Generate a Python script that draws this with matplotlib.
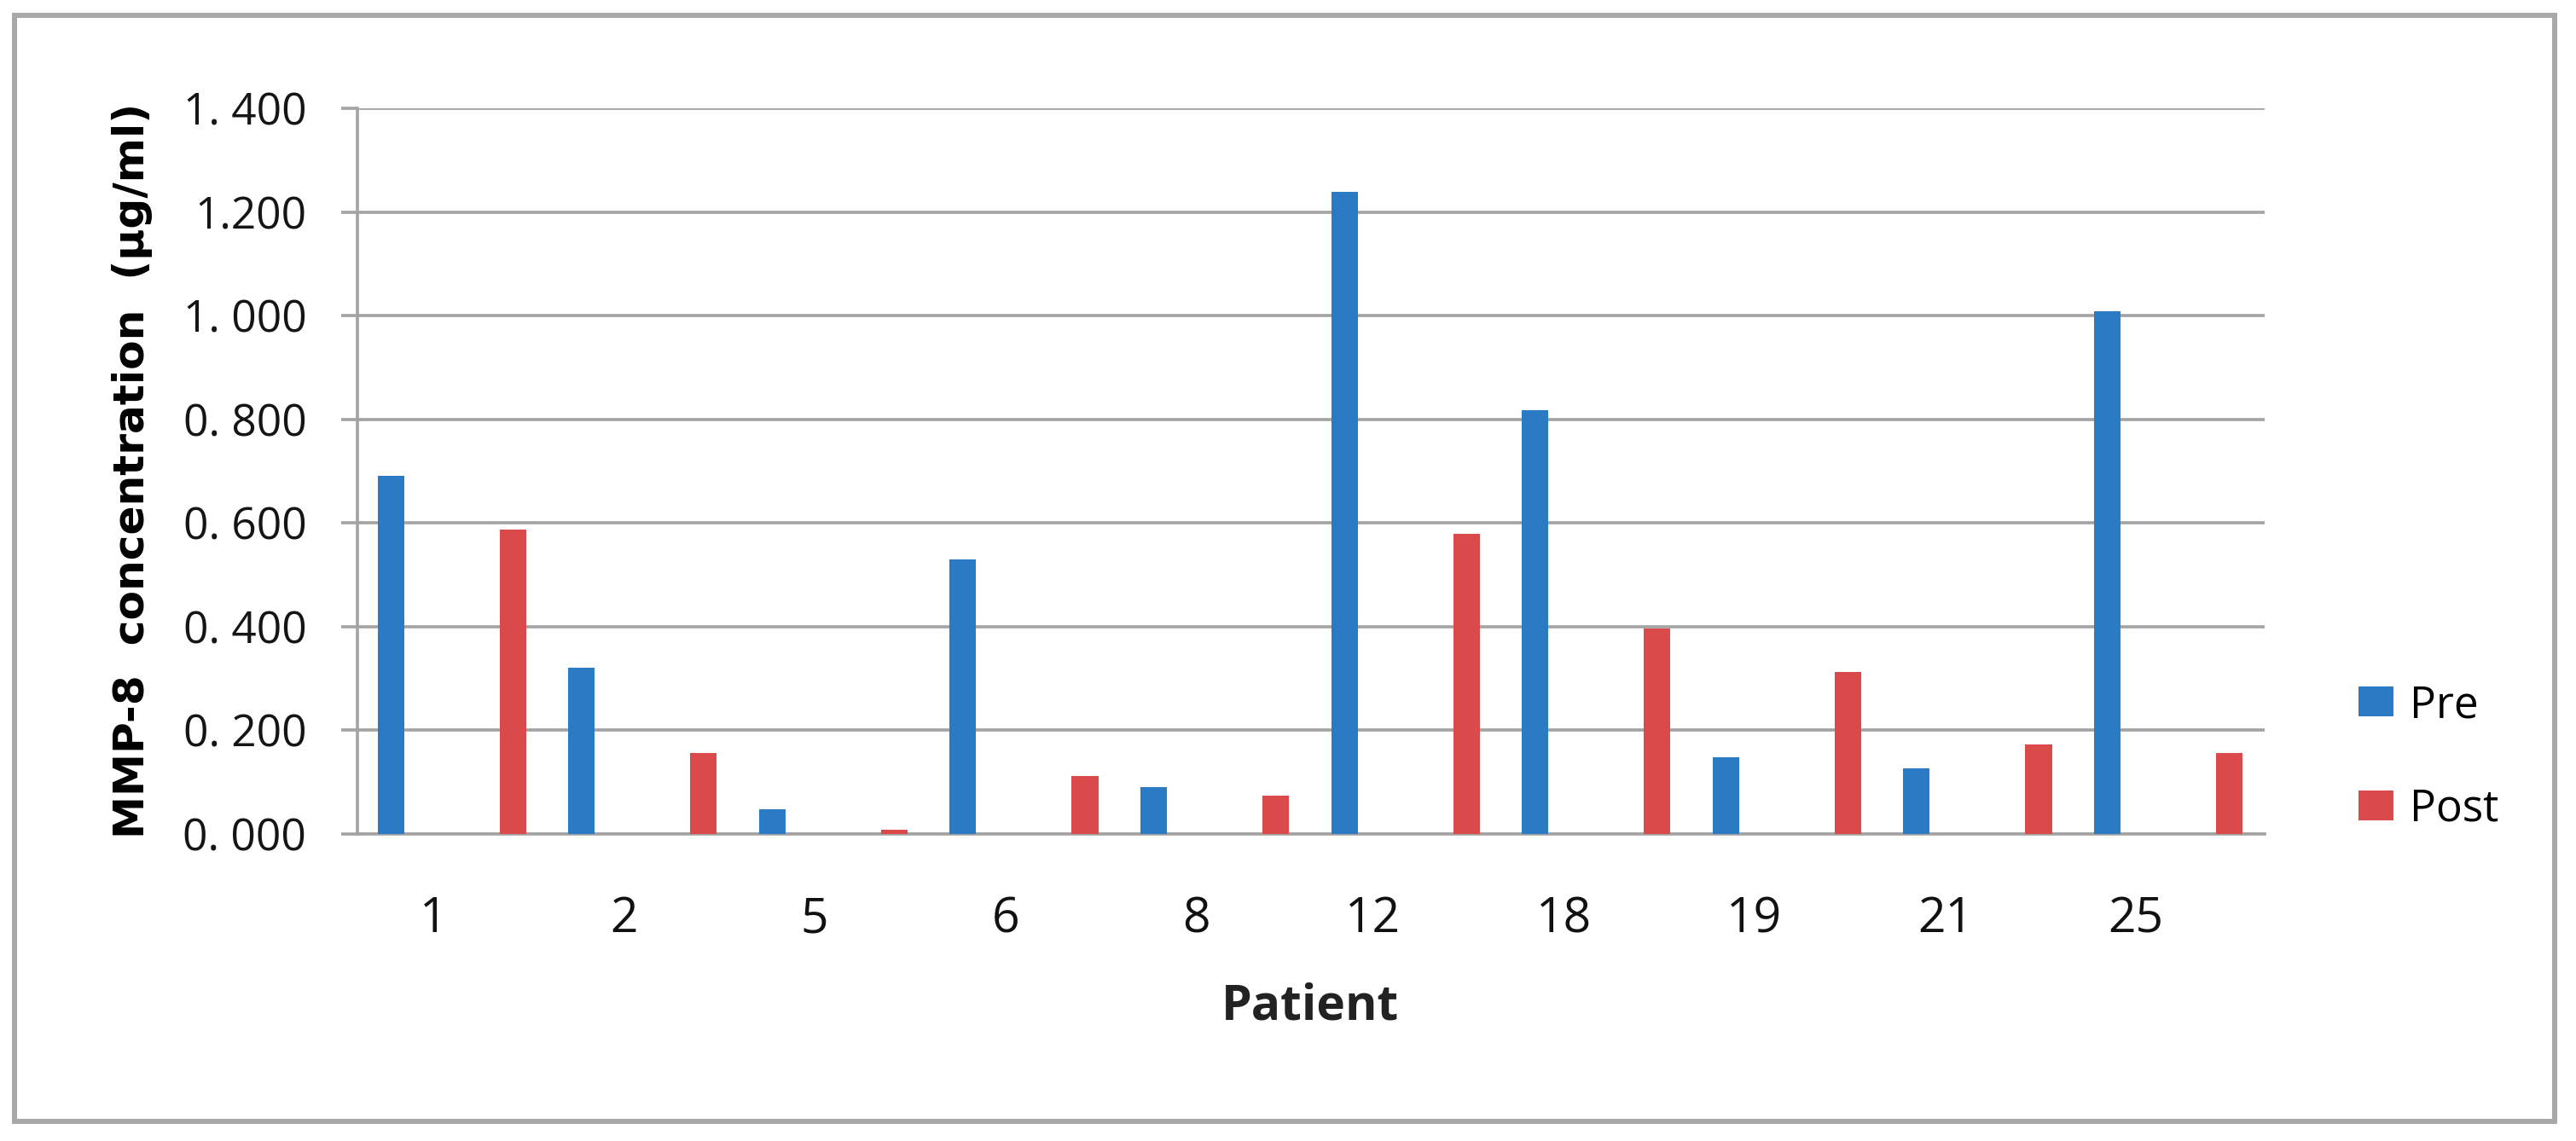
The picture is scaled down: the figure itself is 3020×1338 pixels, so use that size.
import matplotlib
matplotlib.use("Agg")
import matplotlib.pyplot as plt
import numpy as np
from matplotlib.patches import Patch, Rectangle

patients = ["1", "2", "5", "6", "8", "12", "18", "19", "21", "25"]
pre = [0.691, 0.321, 0.047, 0.529, 0.090, 1.239, 0.818, 0.148, 0.127, 1.009]
post = [0.588, 0.157, 0.009, 0.112, 0.074, 0.579, 0.397, 0.313, 0.172, 0.156]
y_ticks = [0.0, 0.2, 0.4, 0.6, 0.8, 1.0, 1.2, 1.4]
y_tick_labels = ["0. 000", "0. 200", "0. 400", "0. 600", "0. 800", "1. 000", "1.200", "1. 400"]

BLUE = "#2a7bc3"
RED = "#db4a4b"
GRID = "#a3a3a3"
FONT = ["Open Sans", "DejaVu Sans"]

W, H = 3020, 1338
fig = plt.figure(figsize=(W / 100, H / 100), dpi=100)
fig.patch.set_facecolor("white")

# outer frame
fig.patches.append(Rectangle((17 / W, 1 - 1315 / H), (2995 - 17) / W, (1315 - 18) / H,
                             transform=fig.transFigure, fill=False, edgecolor="#a8a8a8", lw=4.3))

ax = fig.add_axes([419 / W, 1 - 978 / H, (2655 - 419) / W, (978 - 127) / H])
x = np.arange(len(patients))
bw = 0.139
ax.bar(x - 0.325, pre, bw, color=BLUE, zorder=3)
ax.bar(x + 0.315, post, bw, color=RED, zorder=3)

ax.set_xlim(-0.5, len(patients) - 0.5)
ax.set_ylim(0, 1.4)
ax.set_yticks(y_ticks)
ax.set_yticklabels(y_tick_labels, family=FONT, fontsize=37, color="#151515")
ax.tick_params(axis="y", length=14, width=2.6, color=GRID, pad=29)
ax.yaxis.grid(True, color=GRID, lw=2.6, zorder=0)

# patient labels sit slightly left of the bar pair, right-aligned
ax.set_xticks(x - 0.03)
ax.set_xticklabels(patients, family=FONT, fontsize=41, color="#111111", ha="right")
ax.tick_params(axis="x", length=0, pad=52)

for side in ["top", "right"]:
    ax.spines[side].set_visible(False)
ax.spines["left"].set_color(GRID)
ax.spines["left"].set_linewidth(2.6)
ax.spines["bottom"].set_color(GRID)
ax.spines["bottom"].set_linewidth(2.6)

fig.text(155 / W, 1 - 552 / H, "MMP-8  concentration  (\u00b5g/ml)", rotation=90,
         ha="center", va="center", family="DejaVu Sans", fontweight="bold", fontsize=36.2, color="black")
fig.text(1536 / W, 1 - 1196 / H, "Patient", ha="center", va="baseline",
         family=FONT, fontweight="bold", fontsize=41, color="#222222")

handles = [Patch(facecolor=BLUE, label="Pre"), Patch(facecolor=RED, label="Post")]
fig.legend(handles=handles, loc="upper left", bbox_to_anchor=(2765 / W, 1 - 802 / H),
           frameon=False, prop={"family": FONT, "size": 37}, handlelength=0.79, handleheight=0.67,
           handletextpad=0.37, labelspacing=1.37, borderpad=0, borderaxespad=0)

fig.savefig("out.png", dpi=100, facecolor="white")
